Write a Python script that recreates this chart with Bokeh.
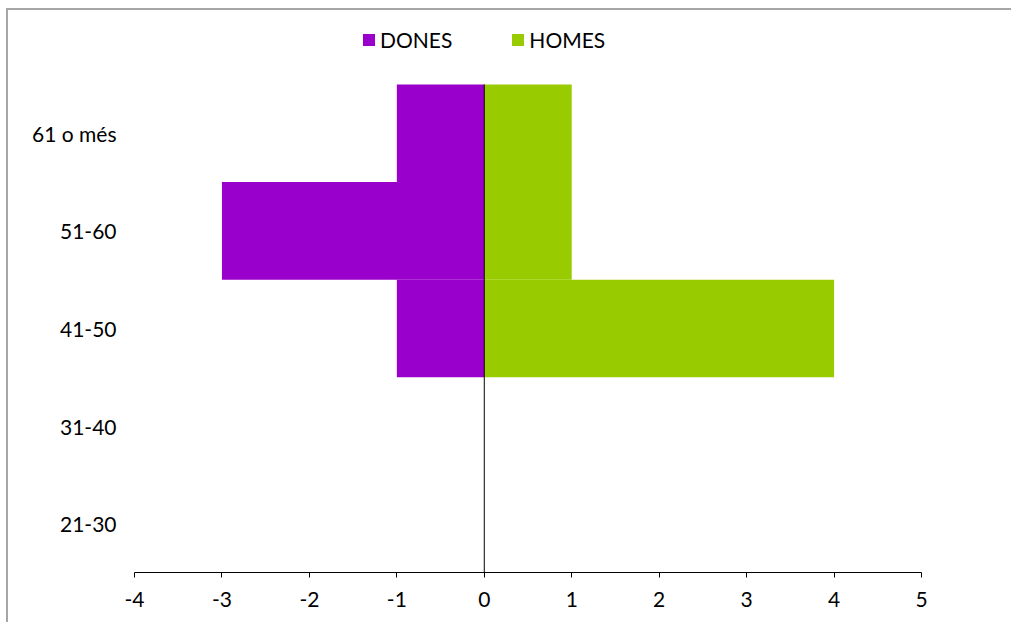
from bokeh.plotting import figure
from bokeh.models import Range1d, FixedTicker, Legend, LegendItem
from bokeh.embed import file_html
from bokeh.resources import INLINE

categories = ["21-30", "31-40", "41-50", "51-60", "61 o més"]
dones = [0, 0, -1, -3, -1]
homes = [0, 0, 4, 1, 1]
x_ticks = [-4, -3, -2, -1, 0, 1, 2, 3, 4, 5]

FONT = "Lato"
FS = "21px"

ypos = [i + 0.5 for i in range(len(categories))]
n = len(categories)

p = figure(width=1005, height=614, output_backend="svg", toolbar_location=None,
           y_range=Range1d(0, n + 0.758),
           x_range=Range1d(-4, 5),
           min_border_left=126, min_border_right=92, min_border_top=0, min_border_bottom=52)
p.styles = {"box-shadow": "-2px -2px 0px 0px #a6a6a6",
            "margin-left": "8px", "margin-top": "10px"}

r1 = p.hbar(y=ypos, left=dones, right=0, height=1.0, fill_color="#9900CC", line_color=None)
r2 = p.hbar(y=ypos, left=0, right=homes, height=1.0, fill_color="#99CC00", line_color=None)

p.segment(x0=0, y0=0, x1=0, y1=n, line_color="black", line_width=1)

p.grid.visible = False
p.outline_line_color = None
p.background_fill_color = "white"
p.border_fill_color = "white"

p.xaxis.ticker = FixedTicker(ticks=x_ticks)
p.xaxis.major_label_overrides = {t: str(t) for t in x_ticks}
p.xaxis.axis_line_color = "black"
p.xaxis.major_tick_line_color = "black"
p.xaxis.major_tick_in = 0
p.xaxis.major_tick_out = 5
p.xaxis.minor_tick_line_color = None
p.xaxis.major_label_standoff = 14
p.xaxis.major_label_text_font = FONT
p.xaxis.major_label_text_font_size = FS
p.xaxis.major_label_text_color = "black"

p.yaxis.ticker = FixedTicker(ticks=ypos)
p.yaxis.major_label_overrides = {y: c for y, c in zip(ypos, categories)}
p.yaxis.axis_line_color = None
p.yaxis.major_tick_line_color = None
p.yaxis.minor_tick_line_color = None
p.yaxis.major_label_standoff = 12
p.yaxis.major_label_text_font = FONT
p.yaxis.major_label_text_font_size = FS
p.yaxis.major_label_text_color = "black"

legend = Legend(items=[LegendItem(label="DONES", renderers=[r1]),
                       LegendItem(label="HOMES", renderers=[r2])],
                orientation="horizontal", location=(227, 520),
                label_text_font=FONT, label_text_font_size=FS, label_text_color="black",
                glyph_width=15, glyph_height=15, spacing=58, label_standoff=4,
                border_line_color=None, background_fill_alpha=0, padding=2, margin=0)
p.add_layout(legend, "center")

open("out.html", "w").write(file_html(p, INLINE))
